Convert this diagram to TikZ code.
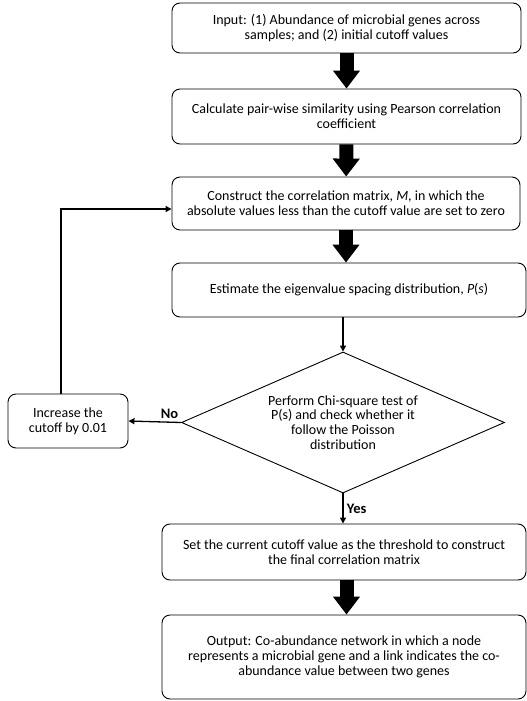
\documentclass[tikz,border=0pt]{standalone}
\usepackage{fontspec}
\setmainfont{Carlito}
\usetikzlibrary{shapes.geometric, arrows.meta, positioning, calc}

\begin{document}
\begin{tikzpicture}[x=1pt, y=-1pt,
        box/.style={draw, fill=white, rounded corners=8pt, line width=0.9pt, align=center, inner sep=0pt,
            font=\fontsize{14}{14.8}\selectfont},
        check/.style={draw, diamond, fill=white, line width=0.9pt, align=center, inner sep=0pt, shape aspect=2.29,
            minimum width=323pt, minimum height=141pt, font=\fontsize{14}{14.8}\selectfont},
        bigarrow/.style={line width=14pt, -{Triangle[width=26pt, length=18pt]}},
        thinarrow/.style={line width=1.3pt, -{Triangle[width=6pt, length=6pt]}},
        answer/.style={font=\fontsize{14.5}{16}\selectfont\bfseries}]
        \useasboundingbox (0, 0) rectangle (527, 701);

        \node[box, minimum width=349pt, minimum height=50pt] (input) at (346.5, 28)
            {Input: (1) Abundance of microbial genes across\\samples; and (2) initial cutoff values}; % input
        \node[box, minimum width=349pt, minimum height=55pt] (pearson) at (346.5, 116.5)
            {Calculate pair-wise similarity using Pearson correlation\\coefficient}; % pearson
        \node[box, minimum width=348pt, minimum height=53pt] (matrix) at (346, 203.5)
            {Construct the correlation matrix, \textit{M}, in which the\\absolute values less than the cutoff value are set to zero}; % matrix
        \node[box, minimum width=354pt, minimum height=54pt] (spacing) at (349, 290)
            {Estimate the eigenvalue spacing distribution, \textit{P}(\textit{s})}; % spacing
        \node[check] (chisq) at (343, 422.5)
            {Perform Chi-square test of\\P(s) and check whether it\\follow the Poisson\\distribution}; % chisq
        \node[box, minimum width=120pt, minimum height=54pt] (increase) at (68, 421)
            {Increase the\\cutoff by 0.01}; % increase
        \node[box, minimum width=364pt, minimum height=56pt] (threshold) at (344, 552)
            {Set the current cutoff value as the threshold to construct\\the final correlation matrix}; % threshold
        \node[box, minimum width=364pt, minimum height=84pt] (output) at (344, 657)
            {Output: Co-abundance network in which a node\\represents a microbial gene and a link indicates the co-\\abundance value between two genes}; % output

        \draw[bigarrow] (input) -- (pearson);
        \draw[bigarrow] (pearson) -- (matrix);
        \draw[bigarrow] (matrix.south) -- (matrix.south |- spacing.north);
        \draw[thinarrow] (spacing.south -| chisq.north) -- (chisq.north);
        \draw[thinarrow] (chisq.west) -- node[answer, above, pos=0.22]{No} (increase.east);
        \draw[thinarrow] ([xshift=-7pt]increase.north) |- ([yshift=-5.5pt]matrix.west);
        \draw[thinarrow] (chisq.south) -- node[answer, right, pos=0.5]{Yes} (chisq.south |- threshold.north);
        \draw[bigarrow] (threshold.south -| input.south) -- (output.north -| input.south);
    \end{tikzpicture}
\end{document}
